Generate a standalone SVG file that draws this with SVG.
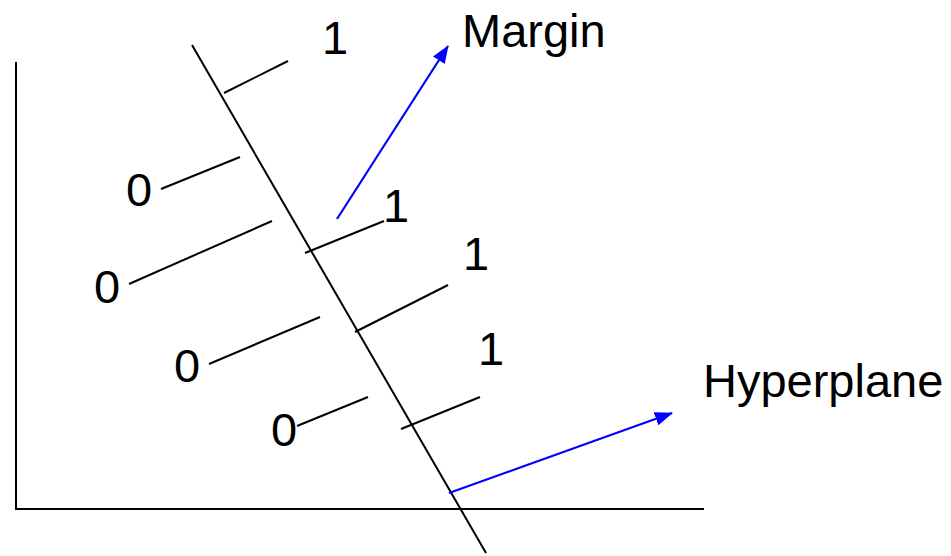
<svg xmlns="http://www.w3.org/2000/svg" width="951" height="556" viewBox="0 0 951 556">
<style>
.ln{stroke:#000;stroke-width:2;fill:none}
.bl{stroke:#0000ff;stroke-width:2.2;fill:none}
text{font-family:"Liberation Sans",Arial,sans-serif;font-size:47px;fill:#000}
</style>
<defs>
<marker id="ah" viewBox="0 0 18 14" refX="17" refY="7" markerWidth="18" markerHeight="14" markerUnits="userSpaceOnUse" orient="auto">
<path d="M0,0 L18,7 L0,14 Z" fill="#0000ff"/>
</marker>
</defs>
<g id="axes">
<line class="ln" x1="16" y1="62" x2="16" y2="510"/>
<line class="ln" x1="15" y1="509" x2="704" y2="509"/>
</g>
<g id="hyperplane">
<line class="ln" x1="192" y1="45" x2="486" y2="553"/>
</g>
<g id="margins">
<line class="ln" x1="224" y1="93" x2="288" y2="61"/>
<line class="ln" x1="161" y1="189" x2="240" y2="157"/>
<line class="ln" x1="129" y1="284" x2="272" y2="221"/>
<line class="ln" x1="305" y1="253" x2="384" y2="221"/>
<line class="ln" x1="209" y1="364" x2="320" y2="317"/>
<line class="ln" x1="355" y1="332" x2="448" y2="285"/>
<line class="ln" x1="297" y1="426" x2="368" y2="397"/>
<line class="ln" x1="401" y1="429" x2="480" y2="397"/>
</g>
<g id="connectors">
<line class="bl" x1="337" y1="219" x2="448" y2="46" marker-end="url(#ah)"/>
<line class="bl" x1="449" y1="493" x2="672" y2="413" marker-end="url(#ah)"/>
</g>
<g id="labels">
<text x="322" y="54">1</text>
<text x="383" y="222">1</text>
<text x="463" y="270">1</text>
<text x="478" y="365">1</text>
<text x="126" y="206">0</text>
<text x="94" y="303">0</text>
<text x="174" y="382">0</text>
<text x="271" y="446">0</text>
</g>
<g id="margin-label"><text x="462" y="47">Margin</text></g>
<g id="hyperplane-label"><text x="703" y="397">Hyperplane</text></g>
</svg>
